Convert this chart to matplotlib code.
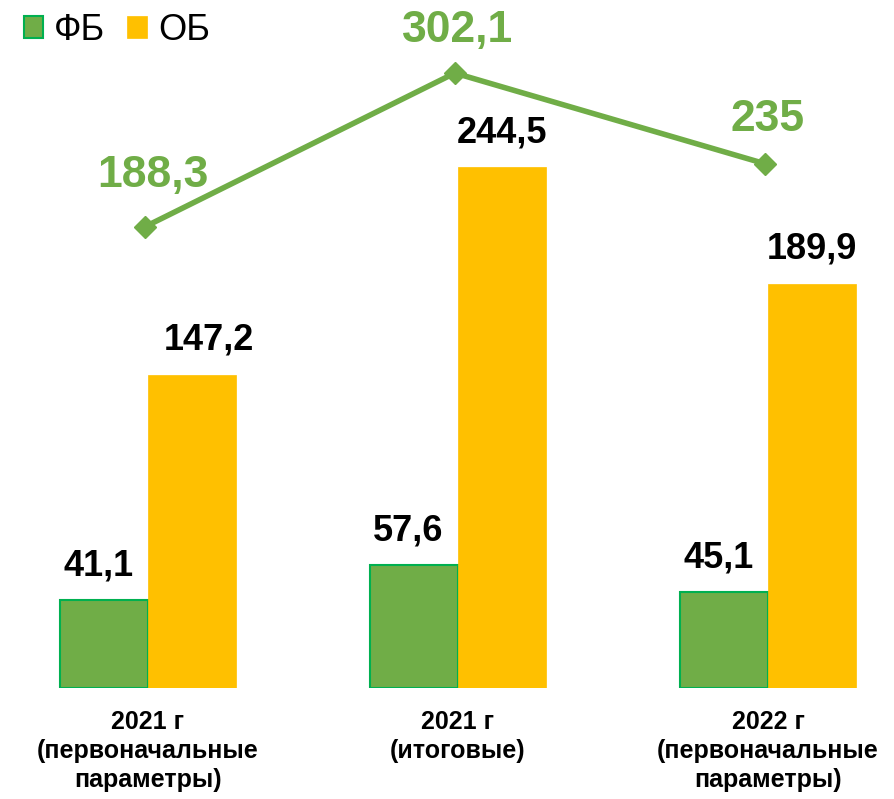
import matplotlib.pyplot as plt
import numpy as np

plt.rcParams['font.family'] = ['Liberation Sans', 'DejaVu Sans']

categories = ["2021 г\n(первоначальные\nпараметры)",
              "2021 г\n(итоговые)",
              "2022 г\n(первоначальные\nпараметры)"]
fb = [41.1, 57.6, 45.1]
ob = [147.2, 244.5, 189.9]
total = [188.3, 302.1, 235]

GREEN = "#70AD47"
GREEN_EDGE = "#00B050"
ORANGE = "#FFC000"

fig = plt.figure(figsize=(8.94, 7.99), dpi=100)
ax = fig.add_axes([0.0447, 0.1389, 0.9396, 0.8236])

x = np.arange(len(categories))
w = 0.284

b1 = ax.bar(x - w / 2, fb, w, color=GREEN, edgecolor=GREEN_EDGE, linewidth=1.5, label="ФБ")
b2 = ax.bar(x + w / 2, ob, w, color=ORANGE, edgecolor=ORANGE, linewidth=0.5, label="ОБ")

for rect, v in zip(b1, fb):
    ax.annotate(f"{v:g}".replace(".", ","), (rect.get_x() + rect.get_width() / 2, v),
                xytext=(-4, 12), textcoords="offset points", ha="center", va="bottom",
                fontsize=26, fontweight="bold")
for i, (rect, v) in enumerate(zip(b2, ob)):
    dx = 12 if i == 0 else 0
    ax.annotate(f"{v:g}".replace(".", ","), (rect.get_x() + rect.get_width() / 2, v),
                xytext=(dx, 12), textcoords="offset points", ha="center", va="bottom",
                fontsize=26, fontweight="bold")

ax.set_xlim(-0.348, 2.361)
ax.set_ylim(0, 309)
ax.set_xticks(x)
ax.set_xticklabels(categories, fontsize=18, fontweight="bold", linespacing=1.25)
ax.tick_params(axis="x", length=0, pad=16)
ax.set_yticks([])
for s in ax.spines.values():
    s.set_visible(False)

ax2 = ax.twinx()
ax2.plot(x - 0.01, total, color=GREEN, linewidth=4, marker="D", markersize=11, zorder=5)
line_offsets = [(4, 22), (0, 16), (0, 17)]
for xi, v, off in zip(x, total, line_offsets):
    ax2.annotate(f"{v:g}".replace(".", ","), (xi, v), xytext=off,
                 textcoords="offset points", ha="center", va="bottom",
                 fontsize=32, fontweight="bold", color=GREEN)
ax2.set_ylim(-153, 334)
ax2.set_yticks([])
for s in ax2.spines.values():
    s.set_visible(False)

fig.legend(handles=[b1, b2], loc="upper left", bbox_to_anchor=(-0.006, 1.02), ncol=2,
           frameon=False, fontsize=26, handlelength=0.55, handleheight=0.55,
           handletextpad=0.3, columnspacing=0.6, borderpad=0.3)

fig.savefig("out.png", dpi=100)
